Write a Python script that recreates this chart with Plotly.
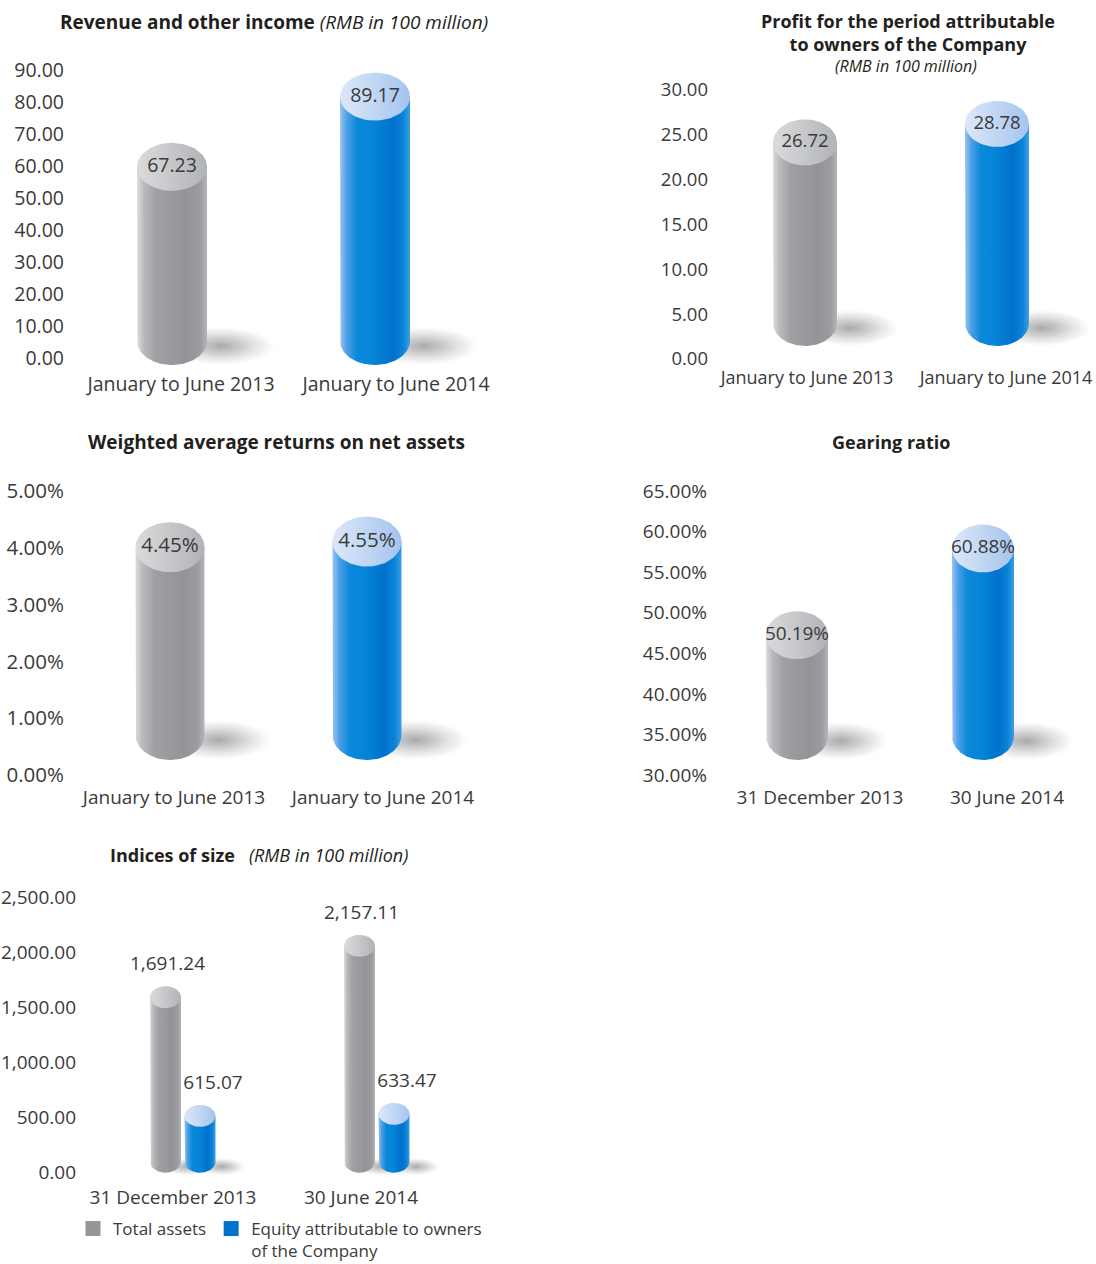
import numpy as np
import plotly.graph_objects as go

W, H = 1096, 1264

# ---------------- data ----------------
rev_categories = ["January to June 2013", "January to June 2014"]
rev_values = [67.23, 89.17]
rev_ticks = [0, 10, 20, 30, 40, 50, 60, 70, 80, 90]

profit_categories = ["January to June 2013", "January to June 2014"]
profit_values = [26.72, 28.78]
profit_ticks = [0, 5, 10, 15, 20, 25, 30]

roe_categories = ["January to June 2013", "January to June 2014"]
roe_values = [4.45, 4.55]
roe_ticks = [0, 1, 2, 3, 4, 5]

gearing_categories = ["31 December 2013", "30 June 2014"]
gearing_values = [50.19, 60.88]
gearing_ticks = [30, 35, 40, 45, 50, 55, 60, 65]

size_categories = ["31 December 2013", "30 June 2014"]
total_assets = [1691.24, 2157.11]
equity = [615.07, 633.47]
size_ticks = [0, 500, 1000, 1500, 2000, 2500]
series_names = ["Total assets", "Equity attributable to owners<br>of the Company"]

# ---------------- styles ----------------
FONT = "Open Sans"
TXT = "#3a3a3a"
GRAY_BODY = [[0, "#dcdcde"], [0.1, "#b9babd"], [0.28, "#9fa0a4"], [0.7, "#939498"], [0.9, "#9b9ca0"], [1, "#b4b5b8"]]
BLUE_BODY = [[0, "#9cc4f0"], [0.1, "#4c9fe6"], [0.25, "#0a88d9"], [0.5, "#0583d6"], [0.75, "#0071cd"], [0.9, "#0a84d8"], [1, "#3d9fe6"]]
GRAY_TOP = [[0, "#dadbdd"], [1, "#b2b3b6"]]
BLUE_TOP = [[0, "#dce8f8"], [1, "#a4c4ee"]]
SHADOW = [[0, "rgba(140,140,140,0.75)"], [0.4, "rgba(170,170,170,0.55)"], [0.75, "rgba(205,205,205,0.3)"],
          [1, "rgba(255,255,255,0)"]]
GRAY_LEG = "#939598"
BLUE_LEG = "#0072ce"

fig = go.Figure()
layout = dict(width=W, height=H, margin=dict(l=0, r=0, t=0, b=0, autoexpand=False),
              paper_bgcolor="white", plot_bgcolor="rgba(0,0,0,0)",
              font=dict(family=FONT, color=TXT), showlegend=True,
              annotations=[])


def ellipse(xc, yc, rx, ry, a0=0, a1=2 * np.pi, n=72):
    t = np.linspace(a0, a1, n)
    return xc + rx * np.cos(t), yc + ry * np.sin(t)


def panel(k, cats, ticks, tickfmt, suffix, yv0, yp0, yv1, yp1, ptop, pbot,
          c0, c1, pleft, pright, ylab_right, xlab_y, tick_dx, fsize, yfsize):
    """Set up axes for panel k; returns px/unit scales."""
    sy = (yp0 - yp1) / (yv1 - yv0)
    rmin = yv0 - (pbot - yp0) / sy
    rmax = yv0 + (yp0 - ptop) / sy
    sx = c1 - c0
    xmin = -(c0 - pleft) / sx
    xmax = (pright - c0) / sx
    xn = "xaxis" if k == 1 else f"xaxis{k}"
    yn = "yaxis" if k == 1 else f"yaxis{k}"
    layout[xn] = dict(domain=[pleft / W, pright / W], range=[xmin, xmax],
                      anchor="free", position=1 - (xlab_y - 13) / H,
                      showgrid=False, zeroline=False, showline=False, ticks="",
                      tickvals=[i + d / sx for i, d in enumerate(tick_dx)], ticktext=cats,
                      ticklabeloverflow="allow",
                      tickfont=dict(size=fsize, color=TXT, family=FONT), fixedrange=True)
    layout[yn] = dict(domain=[1 - pbot / H, 1 - ptop / H], range=[rmin, rmax],
                      anchor="free", position=(ylab_right + 2) / W,
                      showgrid=False, zeroline=False, showline=False, ticks="",
                      tickvals=ticks, ticktext=[format(t, tickfmt) + suffix for t in ticks],
                      ticklabeloverflow="allow",
                      tickfont=dict(size=yfsize, color=TXT, family=FONT), fixedrange=True)
    return sx, sy


def cylinder(k, xc, val, zero, sx, sy, w_px, eh_px, bot_px, body, top, text=None,
             label=None, label_dx=0, label_dy=20, shadow_only=False, fsize=19):
    xa = "x" if k == 1 else f"x{k}"
    ya = "y" if k == 1 else f"y{k}"
    hw = w_px / 2 / sx
    eh = eh_px / 2 / sy
    yt = val - eh
    yb = zero - bot_px / sy + eh
    common = dict(mode="lines", line=dict(width=0), fill="toself", hoverinfo="skip",
                  showlegend=False, xaxis=xa, yaxis=ya)
    if shadow_only:
        sxs, sys = ellipse(xc + 0.7 * w_px / sx, yb - 5 / sy, 0.82 * w_px / sx, 0.85 * eh)
        fig.add_trace(go.Scatter(x=sxs, y=sys, fillgradient=dict(type="radial", colorscale=SHADOW), **common))
        return
    # body: rectangle + bottom half ellipse
    bx, by = ellipse(xc, yb, hw, eh, np.pi, 2 * np.pi)
    xs = np.concatenate([[xc - hw], bx, [xc + hw]])
    ys = np.concatenate([[yt], by, [yt]])
    fig.add_trace(go.Scatter(x=xs, y=ys, fillgradient=dict(type="horizontal", colorscale=body), **common))
    tx, ty = ellipse(xc, yt, hw, eh)
    fig.add_trace(go.Scatter(x=tx, y=ty, fillgradient=dict(type="horizontal", colorscale=top), **common))
    if text is not None:
        fig.add_trace(go.Scatter(x=[xc], y=[yt], mode="text", text=[text], textposition="middle center",
                                 textfont=dict(size=fsize, color=TXT, family=FONT), hoverinfo="skip",
                                 showlegend=False, xaxis=xa, yaxis=ya, cliponaxis=False))
    if label is not None:
        fig.add_trace(go.Scatter(x=[xc + label_dx / sx], y=[val + label_dy / sy], mode="text", text=[label],
                                 textposition="middle center",
                                 textfont=dict(size=fsize, color=TXT, family=FONT), hoverinfo="skip",
                                 showlegend=False, xaxis=xa, yaxis=ya, cliponaxis=False))


def two_cylinder_panel(k, cats, values, ticks, tickfmt, suffix, fmt, zero, top_val, yp0, yp1,
                       ptop, pbot, c0, c1, pleft, pright, ylab_right, xlab_y, tick_dx,
                       w_px, eh_px, bot_px, fsize, yfsize):
    sx, sy = panel(k, cats, ticks, tickfmt, suffix, zero, yp0, top_val, yp1, ptop, pbot,
                   c0, c1, pleft, pright, ylab_right, xlab_y, tick_dx, fsize, yfsize)
    styles = [(GRAY_BODY, GRAY_TOP), (BLUE_BODY, BLUE_TOP)]
    for i, v in enumerate(values):
        cylinder(k, i, v, zero, sx, sy, w_px, eh_px, bot_px, None, None, shadow_only=True)
    for i, v in enumerate(values):
        b, t = styles[i]
        cylinder(k, i, v, zero, sx, sy, w_px, eh_px, bot_px, b, t, text=fmt.format(v), fsize=yfsize)


# Panel 1: Revenue
two_cylinder_panel(1, rev_categories, rev_values, rev_ticks, ".2f", "", "{:.2f}",
                   rev_ticks[0], rev_ticks[-1], 358, 70, 30, 405, 172, 375, 70, 560, 62, 383,
                   [9, 21], 70, 48, 7, 19.5, 19.5)
# Panel 2: Profit
two_cylinder_panel(2, profit_categories, profit_values, profit_ticks, ".2f", "", "{:.2f}",
                   profit_ticks[0], profit_ticks[-1], 359, 90, 30, 405, 805, 997, 715, 1096, 706, 378,
                   [2, 9], 64, 46, -13, 18, 18.5)
# Panel 3: ROE
two_cylinder_panel(3, roe_categories, roe_values, roe_ticks, ".2f", "%", "{:.2f}%",
                   roe_ticks[0], roe_ticks[-1], 775, 491, 460, 815, 170, 367, 70, 560, 62, 797,
                   [4, 16], 69, 50, -15, 19, 20.5)
# Panel 4: Gearing
two_cylinder_panel(4, gearing_categories, gearing_values, gearing_ticks, ".2f", "%", "{:.2f}%",
                   gearing_ticks[0], gearing_ticks[-1], 775, 491, 460, 815, 797, 983, 715, 1096, 705, 797,
                   [23, 24], 62, 48, -15, 19, 19)

# Panel 5: Indices of size
sx5, sy5 = panel(5, size_categories, size_ticks, ",.2f", "", size_ticks[0], 1172.7, size_ticks[-1], 897,
                 880, 1195, 183, 377, 80, 560, 74, 1197, [-10, -16], 19, 19)
g_off, b_off = -17.5, 17
for i in range(len(size_categories)):
    cylinder(5, i + g_off / sx5, total_assets[i], 0, sx5, sy5, 31, 22, 0, None, None, shadow_only=True)
    cylinder(5, i + b_off / sx5, equity[i], 0, sx5, sy5, 31, 22, 0, None, None, shadow_only=True)
for i in range(len(size_categories)):
    cylinder(5, i + g_off / sx5, total_assets[i], 0, sx5, sy5, 31, 22, 0, GRAY_BODY, GRAY_TOP,
             label="{:,.2f}".format(total_assets[i]), label_dx=2, label_dy=21)
    cylinder(5, i + b_off / sx5, equity[i], 0, sx5, sy5, 31, 22, 0, BLUE_BODY, BLUE_TOP,
             label="{:,.2f}".format(equity[i]), label_dx=13, label_dy=21)

# legend entries
fig.add_trace(go.Scatter(x=[None], y=[None], mode="markers", name=series_names[0],
                         marker=dict(symbol="square", size=15, color=GRAY_LEG), xaxis="x5", yaxis="y5"))
fig.add_trace(go.Scatter(x=[None], y=[None], mode="markers", name=series_names[1],
                         marker=dict(symbol="square", size=15, color=BLUE_LEG), xaxis="x5", yaxis="y5"))
layout["legend"] = dict(orientation="h", x=73 / W, y=1 - 1211 / H, xanchor="left", yanchor="top",
                        font=dict(size=17, color=TXT, family=FONT), valign="top",
                        bgcolor="rgba(0,0,0,0)", itemclick=False, itemdoubleclick=False,
                        tracegroupgap=0)

# titles
TT = "#231f20"
ann = layout["annotations"]
ann.append(dict(x=274 / W, y=1 - 22 / H, xref="paper", yref="paper", showarrow=False,
                xanchor="center", yanchor="middle", font=dict(size=19, color=TT, family=FONT),
                text="<b>Revenue and other income</b> <i>(RMB in 100 million)</i>"))
ann.append(dict(x=908 / W, y=1 - 32.5 / H, xref="paper", yref="paper", showarrow=False,
                xanchor="center", yanchor="middle", font=dict(size=18, color=TT, family=FONT),
                text="<b>Profit for the period attributable<br>to owners of the Company</b>"))
ann.append(dict(x=906 / W, y=1 - 66 / H, xref="paper", yref="paper", showarrow=False,
                xanchor="center", yanchor="middle", font=dict(size=16, color=TT, family=FONT),
                text="<i>(RMB in 100 million)</i>"))
ann.append(dict(x=276 / W, y=1 - 442 / H, xref="paper", yref="paper", showarrow=False,
                xanchor="center", yanchor="middle", font=dict(size=19, color=TT, family=FONT),
                text="<b>Weighted average returns on net assets</b>"))
ann.append(dict(x=891 / W, y=1 - 442 / H, xref="paper", yref="paper", showarrow=False,
                xanchor="center", yanchor="middle", font=dict(size=18, color=TT, family=FONT),
                text="<b>Gearing ratio</b>"))
ann.append(dict(x=259 / W, y=1 - 855 / H, xref="paper", yref="paper", showarrow=False,
                xanchor="center", yanchor="middle", font=dict(size=18, color=TT, family=FONT),
                text="<b>Indices of size</b>\u00a0\u00a0 <i>(RMB in 100 million)</i>"))

fig.update_layout(**layout)
fig.write_html("out.html")
